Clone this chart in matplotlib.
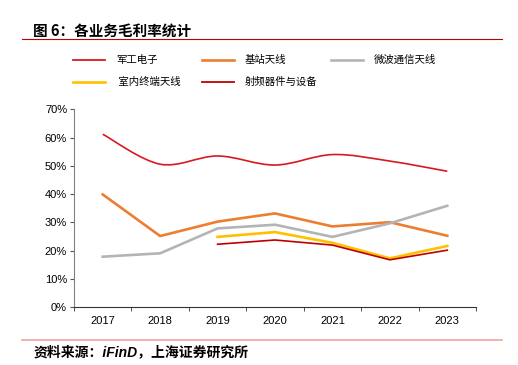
import matplotlib.pyplot as plt
import numpy as np
from matplotlib.path import Path
from matplotlib.patches import PathPatch
from matplotlib.ticker import PercentFormatter
import matplotlib.lines as mlines

plt.rcParams["font.family"] = ["Liberation Sans", "Noto Sans CJK SC", "DejaVu Sans"]

years = ["2017", "2018", "2019", "2020", "2021", "2022", "2023"]
junggong = [61.2, 50.6, 53.5, 50.3, 54.0, 51.7, 48.1]
jizhan = [39.9, 25.2, 30.3, 33.2, 28.6, 30.1, 25.3]
weibo = [17.9, 19.1, 27.9, 29.2, 24.9, 29.7, 35.9]
shinei = [24.9, 26.6, 22.8, 17.3, 21.7]
shepin = [22.3, 23.8, 22.0, 16.8, 20.2]

names = ["军工电子", "基站天线", "微波通信天线", " 室内终端天线", "射频器件与设备"]
colors = ["#D71920", "#ED7D31", "#B4B4B4", "#FFC000", "#C00000"]


def smooth_path(xs, ys):
    # catmull-rom style bezier segments, like excel's smoothed line
    pts = np.column_stack([xs, ys])
    verts = [pts[0]]
    codes = [Path.MOVETO]
    n = len(pts)
    for i in range(n - 1):
        p0 = pts[max(i - 1, 0)]
        p1 = pts[i]
        p2 = pts[i + 1]
        p3 = pts[min(i + 2, n - 1)]
        c1 = p1 + (p2 - p0) / 6
        c2 = p2 - (p3 - p1) / 6
        verts += [c1, c2, p2]
        codes += [Path.CURVE4] * 3
    return Path(verts, codes)


fig = plt.figure(figsize=(5.18, 3.65), dpi=100)
ax = fig.add_axes([0.1429, 0.158, 0.776, 0.5425])

x = np.arange(len(years))
ax.add_patch(PathPatch(smooth_path(x, junggong), fill=False, edgecolor=colors[0], lw=1.2))
ax.plot(x, jizhan, color=colors[1], lw=1.9)
ax.plot(x, weibo, color=colors[2], lw=1.9)
ax.plot(x[2:], shinei, color=colors[3], lw=1.9)
ax.plot(x[2:], shepin, color=colors[4], lw=1.2)

ax.set_xlim(-0.5, 6.5)
ax.set_ylim(0, 70)
ax.set_yticks(np.arange(0, 71, 10))
ax.yaxis.set_major_formatter(PercentFormatter(decimals=0))
ax.set_xticks(x)
ax.set_xticklabels(years)
ax.set_xticks(np.arange(-0.5, 7, 1), minor=True)
ax.tick_params(axis="x", which="major", length=0, pad=6, labelsize=8)
ax.tick_params(axis="x", which="minor", length=3, color="#333333")
ax.tick_params(axis="y", length=3, labelsize=8, color="#555555", pad=2)
for s in ["top", "right"]:
    ax.spines[s].set_visible(False)
ax.spines["left"].set_color("#808080")
ax.spines["bottom"].set_color("#333333")

# title and rules
fig.text(0.064, 0.915, "图 6：各业务毛利率统计", fontsize=10.5, fontweight="bold",
         family=["Noto Sans CJK SC"], va="center")
fig.add_artist(mlines.Line2D([0.042, 0.969], [0.893, 0.893], color="#C00000", lw=0.8))
fig.add_artist(mlines.Line2D([0.042, 0.969], [0.068, 0.068], color="#F4A0A0", lw=1.2))
fig.text(0.064, 0.035, "资料来源：iFinD，上海证券研究所", fontsize=10, style="italic",
         fontweight="bold", va="center")

# legend laid out by hand, two rows
lw_list = [1.3, 1.9, 1.9, 1.9, 1.3]
slots = [(73, 60), (202, 60), (331, 60), (73, 82), (202, 82)]
W, H = 518, 365
for (px, py), name, c, lw in zip(slots, names, colors, lw_list):
    fig.add_artist(mlines.Line2D([px / W, (px + 32) / W], [1 - py / H, 1 - py / H],
                                 color=c, lw=lw))
    fig.text((px + 43) / W, 1 - py / H, name, fontsize=7.5,
             family=["Noto Sans CJK SC"], va="center")

fig.savefig("out.png", dpi=100)
